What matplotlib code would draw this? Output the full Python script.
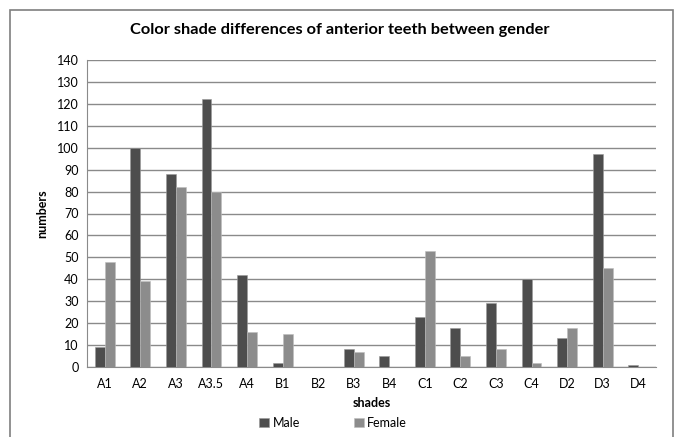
import matplotlib
matplotlib.use("Agg")
import matplotlib.pyplot as plt
from matplotlib.patches import Rectangle
import numpy as np

shades = ["A1", "A2", "A3", "A3.5", "A4", "B1", "B2", "B3", "B4",
          "C1", "C2", "C3", "C4", "D2", "D3", "D4"]
male = [9, 100, 88, 122, 42, 2, 0, 8, 5, 23, 18, 29, 40, 13, 97, 1]
female = [48, 39, 82, 80, 16, 15, 0, 7, 0, 53, 5, 8, 2, 18, 45, 0]

plt.rcParams["font.family"] = ["Lato", "DejaVu Sans"]

W, H = 677, 437
fig = plt.figure(figsize=(W / 100, H / 100), dpi=100)
fig.patch.set_facecolor("white")

# outer chart frame
fig.patches.append(Rectangle((10 / W, -0.05), (673 - 10) / W, 1.05 - 10 / H,
                             transform=fig.transFigure, fill=False,
                             edgecolor="#7f7f7f", linewidth=1.2, zorder=0))

left, right, top, bottom = 87, 656, 60, 367
ax = fig.add_axes([left / W, 1 - bottom / H, (right - left) / W, (bottom - top) / H])

x = np.arange(len(shades))
bw = 0.28
ax.bar(x - bw / 2, male, bw, color="#4d4d4d", edgecolor="#9a9a9a", linewidth=0.4,
       label="Male", zorder=3)
ax.bar(x + bw / 2, female, bw, color="#8c8c8c", edgecolor="#bdbdbd", linewidth=0.4,
       label="Female", zorder=3)

ax.set_xlim(-0.5, len(shades) - 0.5)
ax.set_ylim(0, 140)
ax.set_yticks(np.arange(0, 141, 10))
ax.set_xticks(x)
ax.set_xticklabels(shades)
ax.yaxis.grid(True, color="#8a8a8a", linewidth=1.0, zorder=0)
ax.set_axisbelow(True)
for s in ["top", "right"]:
    ax.spines[s].set_visible(False)
ax.spines["left"].set_color("#8a8a8a")
ax.spines["bottom"].set_color("#8a8a8a")
ax.tick_params(axis="both", length=0, labelsize=9, colors="black", pad=6)
ax.tick_params(axis="x", pad=8)

ax.set_xlabel("shades", fontsize=9, fontweight="bold", labelpad=5)
ax.set_ylabel("numbers", fontsize=9, fontweight="bold", labelpad=6)
fig.text(340 / W, 1 - 30 / H,
         "Color shade differences of anterior teeth between gender",
         ha="center", va="center", fontsize=11.8, fontweight="bold")

fig.legend(loc="center", bbox_to_anchor=(333 / W, 1 - 423 / H), ncol=2,
           frameon=False, fontsize=9, handlelength=0.8, handleheight=0.8,
           handletextpad=0.3, columnspacing=4.3)

fig.savefig("out.png", dpi=100)
